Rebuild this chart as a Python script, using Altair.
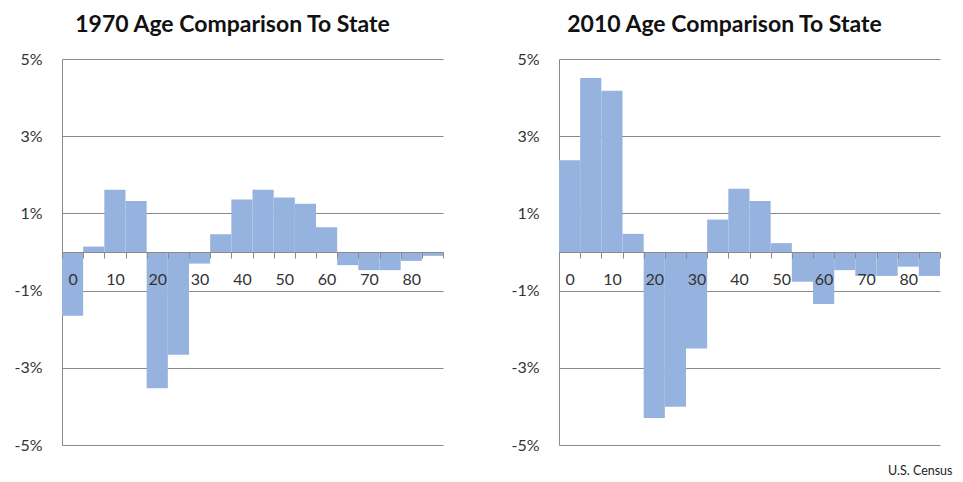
import altair as alt
import pandas as pd

ages = [0, 5, 10, 15, 20, 25, 30, 35, 40, 45, 50, 55, 60, 65, 70, 75, 80, 85]
pct_1970 = [-1.65, 0.14, 1.61, 1.32, -3.53, -2.66, -0.30, 0.46, 1.36, 1.61,
            1.41, 1.25, 0.64, -0.34, -0.47, -0.47, -0.23, -0.10]
pct_2010 = [2.38, 4.51, 4.18, 0.47, -4.30, -4.01, -2.50, 0.84, 1.64, 1.32,
            0.23, -0.77, -1.35, -0.47, -0.62, -0.62, -0.38, -0.62]
y_ticks = [-5, -3, -1, 1, 3, 5]
titles = ["1970 Age Comparison To State", "2010 Age Comparison To State"]
source = "U.S. Census"

W, H = 381, 386
BAR = "#95B3DE"
GRID = "#8a8a8a"
TXT = "#333333"


def panel(values, title, dx):
    df = pd.DataFrame({"age": ages, "pct": values})
    return alt.Chart(
        df,
        title=alt.TitleParams(title, fontSize=23, fontWeight="bold", color="#111",
                              anchor="middle", dx=dx, offset=14),
    ).mark_bar(color=BAR).encode(
        x=alt.X("age:O",
                scale=alt.Scale(paddingInner=0, paddingOuter=0),
                axis=alt.Axis(title=None, orient="bottom", offset=-H / 2,
                              tickBand="extent", labelAngle=0,
                              labelExpr="datum.value % 10 === 0 ? datum.label : ''",
                              labelOverlap=False, labelFontSize=16, labelColor=TXT,
                              domainColor=GRID, tickColor=GRID, tickSize=6,
                              labelPadding=13, zindex=1)),
        y=alt.Y("pct:Q",
                scale=alt.Scale(domain=[-5, 5], nice=False, zero=False),
                axis=alt.Axis(title=None, values=y_ticks,
                              labelExpr="datum.value + '%'",
                              grid=True, gridColor=GRID, ticks=False,
                              domainColor=GRID, labelPadding=20,
                              labelFontSize=16, labelColor=TXT)),
    ).properties(width=W, height=H)


left = panel(pct_1970, titles[0], -20)
right = panel(pct_2010, titles[1], -25)

chart = alt.hconcat(left, right, spacing=66).properties(
    padding={"left": 5, "top": 6, "right": 0, "bottom": 0},
    title=alt.TitleParams(source, orient="bottom", anchor="end", fontSize=12.5,
                          fontWeight="normal", color="#222", dx=12, offset=12),
).configure(font="Lato").configure_view(stroke=None)

chart.save("out.html", embed_options={"renderer": "svg", "actions": False})
